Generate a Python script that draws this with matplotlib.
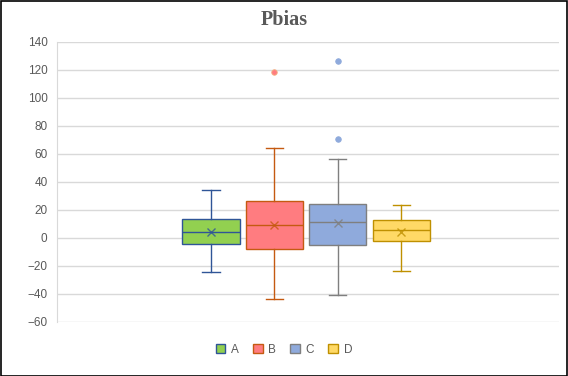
import numpy as np
import matplotlib.pyplot as plt
from matplotlib.patches import Rectangle, Patch

# box statistics
names = ['A', 'B', 'C', 'D']
whislo = [-24.3, -43.8, -41.0, -23.8]
q1 = [-4.5, -8.1, -5.2, -2.4]
med = [4.1, 9.3, 11.2, 5.5]
q3 = [13.4, 26.3, 24.0, 12.6]
whishi = [34.2, 64.3, 56.2, 23.3]
means = [4.3, 9.1, 10.5, 4.1]
fliers = [[], [118.6], [126.2, 70.5], []]

fills = ['#92D050', '#FF7C80', '#8FAADC', '#FFD966']
edges = ['#2F5597', '#C55A11', '#7F7F7F', '#BF9000']
flier_fill = ['#92D050', '#FF7C80', '#8FAADC', '#FFD966']
flier_edge = ['#2F5597', '#F4B183', '#8FAADC', '#BF9000']

txt = '#595959'

fig = plt.figure(figsize=(5.68, 3.76), dpi=100)
ax = fig.add_axes([57.3/568, 54.3/376, (558.5-57.3)/568, (321.7-41.7)/376])

step = 0.1265
width = 0.114
pos = [0.4965 + (i - 1.5)*step for i in range(len(names))]

for i, n in enumerate(names):
    st = dict(label=n, whislo=whislo[i], q1=q1[i], med=med[i], q3=q3[i],
              whishi=whishi[i], mean=means[i], fliers=fliers[i])
    ax.bxp([st], positions=[pos[i]], widths=width, patch_artist=True,
           showmeans=True, meanline=False,
           boxprops=dict(facecolor=fills[i], edgecolor=edges[i], linewidth=1.0),
           medianprops=dict(color=edges[i], linewidth=1.0),
           whiskerprops=dict(color=edges[i], linewidth=1.0),
           capprops=dict(color=edges[i], linewidth=1.0),
           capwidths=width*0.3,
           meanprops=dict(marker='x', markeredgecolor=edges[i], markersize=6,
                          markeredgewidth=1.0, alpha=0.8),
           flierprops=dict(marker='o', markerfacecolor=flier_fill[i],
                           markeredgecolor=flier_edge[i], markersize=4,
                           markeredgewidth=0.6),
           manage_ticks=False)

ax.set_xlim(0, 1)
ax.set_ylim(-60, 140)
ax.set_yticks(np.arange(-60, 141, 20))
ax.set_xticks([])
ax.grid(axis='y', color='#D9D9D9', linewidth=1.0)
ax.set_axisbelow(True)
for s in ['top', 'right', 'bottom']:
    ax.spines[s].set_visible(False)
ax.spines['left'].set_color('#D9D9D9')
ax.tick_params(axis='y', length=0, pad=7, labelsize=8.5, labelcolor=txt)
for lab in ax.get_yticklabels():
    lab.set_fontfamily('Liberation Sans')

fig.text(0.5, 0.948, 'Pbias', ha='center', va='center', fontsize=14.5,
         fontweight='bold', color=txt, family='Liberation Serif')

handles = [Patch(facecolor=fills[i], edgecolor=edges[i], label=names[i])
           for i in range(len(names))]
fig.legend(handles=handles, loc='center', bbox_to_anchor=(0.5, 0.069),
           ncol=4, frameon=False, handlelength=0.8, handleheight=0.8,
           handletextpad=0.5, columnspacing=1.2,
           prop={'family': 'Liberation Sans', 'size': 8.5}, labelcolor=txt)

fig.patches.append(Rectangle((0.5/568, 0.5/376), 566.5/568, 374.5/376,
                             transform=fig.transFigure, fill=False,
                             edgecolor='black', linewidth=1.2))

fig.savefig('out.png', dpi=100)
